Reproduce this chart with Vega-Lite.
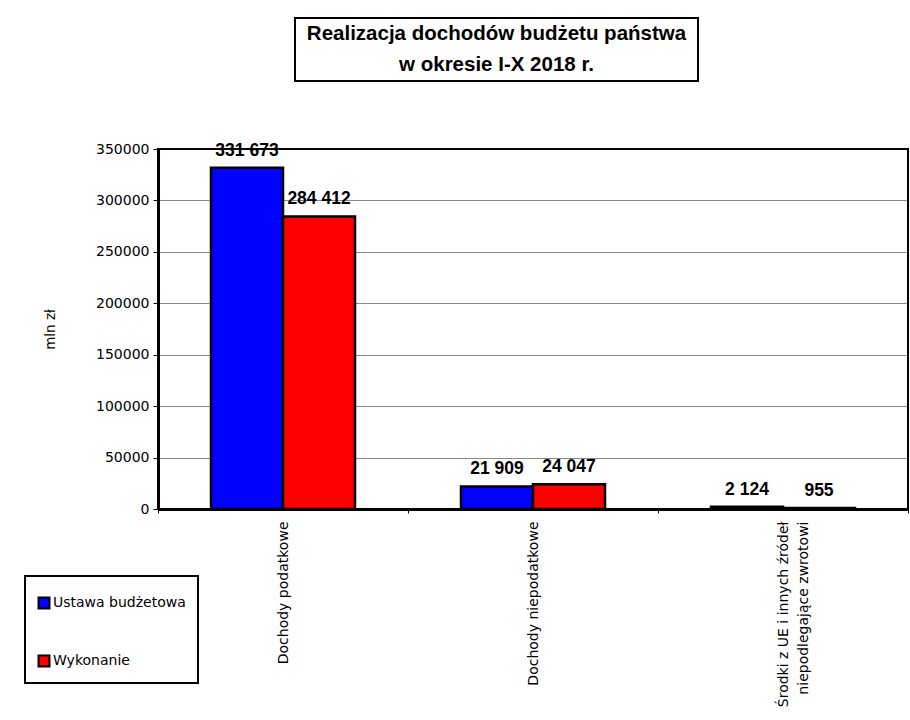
{
  "$schema": "https://vega.github.io/schema/vega-lite/v6.json",
  "padding": {"left": 23, "top": 17, "right": 0, "bottom": 0},
  "background": "white",
  "config": {
    "locale": {"number": {"decimal": ",", "thousands": " ", "grouping": [3], "currency": ["", " zł"]}},
    "font": "DejaVu Sans",
    "view": {"stroke": "black", "strokeWidth": 2},
    "legend": {"strokeWidth": 2}
  },
  "spacing": 58,
  "resolve": {"scale": {"color": "independent"}, "legend": {"color": "independent"}},
  "vconcat": [
    {
      "spacing": 0,
      "hconcat": [
        {
          "width": 136,
          "height": 63,
          "view": {"stroke": null},
          "data": {"values": [{"a": 0}]},
          "mark": "text",
          "encoding": {
            "x": {"field": "a", "type": "quantitative", "axis": null},
            "y": {"field": "a", "type": "quantitative", "axis": null},
            "text": {"value": ""}
          }
        },
        {
          "width": 403,
          "height": 63,
          "data": {"values": [
            {"n": 1, "t": "Realizacja dochodów budżetu państwa"},
            {"n": 2, "t": "w okresie I-X 2018 r."}
          ]},
          "mark": {"type": "text", "font": "Liberation Sans", "fontSize": 20.5, "fontWeight": "bold", "baseline": "middle", "align": "center", "color": "black"},
          "encoding": {
            "y": {"field": "n", "type": "ordinal", "axis": null, "scale": {"paddingInner": 0, "paddingOuter": 0.125}},
            "text": {"field": "t", "type": "nominal"}
          }
        }
      ]
    },
    {
      "width": 750,
      "height": 360,
      "data": {
        "values": [
          {"kategoria": "Dochody podatkowe", "seria": "Ustawa budżetowa", "wartosc": 331673},
          {"kategoria": "Dochody podatkowe", "seria": "Wykonanie", "wartosc": 284412},
          {"kategoria": "Dochody niepodatkowe", "seria": "Ustawa budżetowa", "wartosc": 21909},
          {"kategoria": "Dochody niepodatkowe", "seria": "Wykonanie", "wartosc": 24047},
          {"kategoria": "Środki z UE i innych źródeł\nniepodlegające zwrotowi", "seria": "Ustawa budżetowa", "wartosc": 2124},
          {"kategoria": "Środki z UE i innych źródeł\nniepodlegające zwrotowi", "seria": "Wykonanie", "wartosc": 955}
        ]
      },
      "encoding": {
        "x": {
          "field": "kategoria",
          "type": "nominal",
          "sort": null,
          "title": null,
          "scale": {"paddingInner": 0, "paddingOuter": 0},
          "axis": {
            "labelAngle": 270,
            "labelFont": "DejaVu Sans",
            "labelFontSize": 14,
            "labelColor": "black",
            "labelPadding": 8,
            "labelLimit": 400,
            "labelExpr": "split(datum.label, '\\n')",
            "labelLineHeight": 20,
            "tickBand": "extent",
            "tickSize": 4,
            "tickColor": "black",
            "domainColor": "black",
            "domainWidth": 3,
            "grid": false
          }
        },
        "xOffset": {"field": "seria", "type": "nominal", "sort": null, "scale": {"paddingInner": 0, "paddingOuter": 0.736}},
        "y": {
          "field": "wartosc",
          "type": "quantitative",
          "title": "mln zł",
          "scale": {"domain": [0, 350000], "nice": false},
          "axis": {
            "values": [0, 50000, 100000, 150000, 200000, 250000, 300000, 350000],
            "format": "d",
            "labelFont": "DejaVu Sans",
            "labelFontSize": 14,
            "labelColor": "black",
            "labelPadding": 4,
            "tickSize": 5,
            "tickColor": "black",
            "domainColor": "black",
            "domainWidth": 3,
            "grid": true,
            "gridColor": "#111111",
            "gridDash": [1, 1],
            "gridWidth": 1,
            "titleFont": "DejaVu Sans",
            "titleFontSize": 13.5,
            "titleFontWeight": "normal",
            "titleColor": "black",
            "titlePadding": 38
          }
        }
      },
      "layer": [
        {
          "mark": {"type": "bar", "stroke": "black", "strokeWidth": 2.5},
          "encoding": {
            "color": {
              "field": "seria",
              "type": "nominal",
              "sort": null,
              "scale": {"domain": ["Ustawa budżetowa", "Wykonanie"], "range": ["#0000ff", "#ff0000"]},
              "legend": {
                "title": " ",
                "titleFontSize": 6,
                "titlePadding": 2,
                "orient": "none",
                "legendX": -133,
                "legendY": 427,
                "direction": "vertical",
                "strokeColor": "black",
                "fillColor": "white",
                "padding": 12,
                "rowPadding": 38,
                "symbolType": "square",
                "symbolSize": 120,
                "symbolStrokeColor": "black",
                "symbolStrokeWidth": 2,
                "symbolOpacity": 1,
                "labelFont": "DejaVu Sans",
                "labelFontSize": 14,
                "labelColor": "black",
                "labelOffset": 2,
                "labelLimit": 300
              }
            }
          }
        },
        {
          "mark": {"type": "text", "baseline": "bottom", "dy": -8, "font": "Liberation Sans", "fontWeight": "bold", "fontSize": 17.5, "color": "black"},
          "encoding": {
            "text": {"field": "wartosc", "type": "quantitative", "format": ",d"}
          }
        }
      ]
    }
  ]
}
